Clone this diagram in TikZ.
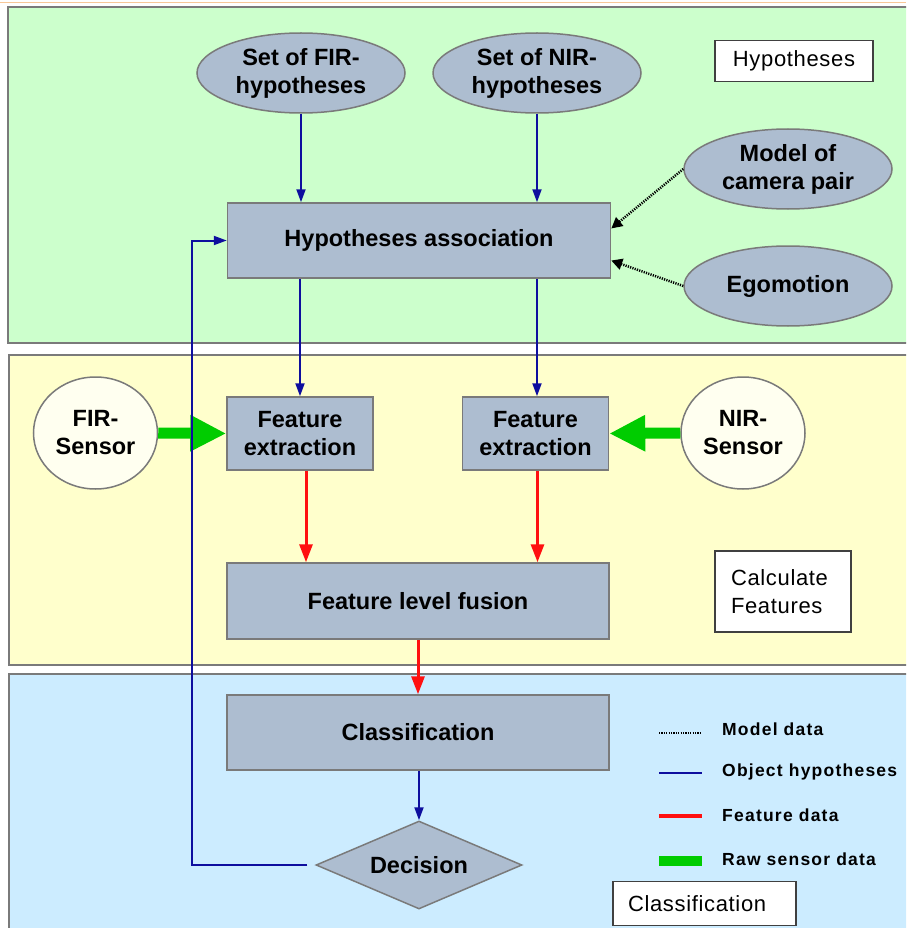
\documentclass[tikz,border=0pt]{standalone}
\usepackage{fontspec}
\setmainfont{Liberation Sans}
\usepackage{xcolor}
\usepackage{tikz}
\usetikzlibrary{shapes.geometric,arrows,arrows.meta,positioning}
\definecolor{hypgreen}{HTML}{CCFFCC}
\definecolor{calcyellow}{HTML}{FFFFCC}
\definecolor{classblue}{HTML}{CCECFF}
\definecolor{boxgray}{HTML}{ADBDD0}
\definecolor{edgegray}{HTML}{7A7A7A}
\definecolor{sensorfill}{HTML}{FFFFF0}
\definecolor{hypblue}{HTML}{0E0E9E}
\definecolor{featred}{HTML}{FF1010}
\definecolor{rawgreen}{HTML}{00CC00}
\definecolor{rimorange}{HTML}{F8C898}

\begin{document}
\begin{tikzpicture}[x=1pt,y=-1pt]
    \tikzstyle{every node}+=[inner sep=0pt]
    \tikzstyle{panel}=[draw=edgegray, line width=2pt]
    \tikzstyle{procbox}=[rectangle, draw=edgegray, fill=boxgray, line width=1.5pt, align=center, font=\bfseries\fontsize{23.5}{28}\selectfont]
    \tikzstyle{source}=[ellipse, draw=edgegray, fill=boxgray, line width=1.5pt, align=center, minimum width=208pt, minimum height=80pt, font=\bfseries\fontsize{23.5}{28}\selectfont]
    \tikzstyle{sensor}=[ellipse, draw=edgegray, fill=sensorfill, line width=1.5pt, align=center, minimum width=124pt, minimum height=112pt, font=\bfseries\fontsize{23.5}{28}\selectfont]
    \tikzstyle{labelbox}=[rectangle, draw=black!75, fill=white, line width=1.2pt, font=\fontsize{22}{28}\selectfont\addfontfeature{LetterSpace=3}]
    \tikzstyle{legendtext}=[anchor=west, font=\bfseries\fontsize{17.5}{20}\selectfont\addfontfeature{LetterSpace=7}]
    \tikzstyle{hypline}=[draw=hypblue, line width=2pt]
    \tikzstyle{hyparrow}=[hypline, -{Triangle[length=13pt,width=9pt]}]
    \tikzstyle{modelline}=[black, line width=2.5pt, dash pattern=on 1.2pt off 1.2pt]
    \tikzstyle{modelarrow}=[modelline, -{Triangle[length=11pt,width=11pt]}]
    \tikzstyle{featline}=[draw=featred, line width=3pt]
    \tikzstyle{featarrow}=[featline, -{Triangle[length=18pt,width=13pt]}]
    \tikzstyle{rawline}=[draw=rawgreen, line width=11pt]
    \tikzstyle{rawarrow}=[rawline, -{Triangle[length=36pt,width=34pt]}]

    \useasboundingbox (0,0) rectangle (906,928);
    \clip (0,0) rectangle (906,928);

    \draw [rimorange, line width=1.5pt] (0,2.5) -- (906,2.5);
    \draw [panel, fill=hypgreen] (8,7) rectangle (920,343);
    \draw [panel, fill=calcyellow] (9,355) rectangle (920,665);
    \draw [panel, fill=classblue] (9,674) rectangle (920,940);

    \node [source] (firhyp) at (301,73) {Set of FIR-\\hypotheses};
    \node [source] (nirhyp) at (537,73) {Set of NIR-\\hypotheses};
    \node [source] (modelcam) at (788,169) {Model of\\camera pair};
    \node [source] (egomotion) at (788,286) {Egomotion};
    \node [labelbox, minimum width=158pt, minimum height=41pt] (hyplabel) at (794,61) {Hypotheses};

    \node [procbox, minimum width=383pt, minimum height=75pt] (assoc) at (419,240.5) {Hypotheses association};
    \node [procbox, minimum width=146pt, minimum height=73pt] (featfir) at (300,433.5) {Feature\\extraction};
    \node [procbox, minimum width=146pt, minimum height=73pt] (featnir) at (535.5,433.5) {Feature\\extraction};
    \node [sensor] (firsensor) at (95.5,433) {FIR-\\Sensor};
    \node [sensor] (nirsensor) at (743,433) {NIR-\\Sensor};
    \node [procbox, minimum width=382pt, minimum height=76pt] (fusion) at (418,601) {Feature level fusion};
    \node [labelbox, align=left, text width=104pt, inner xsep=16pt, minimum height=81pt] (calclabel) at (783,591.5) {Calculate\\Features};

    \node [procbox, minimum width=382pt, minimum height=75pt] (classify) at (418,732.5) {Classification};
    \node [procbox, diamond, aspect=2.34, minimum width=206pt, minimum height=88pt] (decision) at (419,865) {Decision};
    \node [labelbox, align=left, text width=153pt, inner xsep=15pt, minimum height=44pt] (classlabel) at (704.5,903.5) {Classification};

    \coordinate (legmodelA) at (659,733);
    \coordinate (legmodelB) at (702,733);
    \coordinate (leghypA) at (659,773);
    \coordinate (leghypB) at (702,773);
    \coordinate (legfeatA) at (659,816);
    \coordinate (legfeatB) at (702,816);
    \coordinate (legrawA) at (659,861);
    \coordinate (legrawB) at (702,861);
    \draw [modelline, line width=1.5pt] (legmodelA) -- (legmodelB);
    \draw [hypline] (leghypA) -- (leghypB);
    \draw [featline, line width=4pt] (legfeatA) -- (legfeatB);
    \draw [rawline, line width=10pt] (legrawA) -- (legrawB);
    \node [legendtext] (legmodel) at (722,729) {Model data};
    \node [legendtext] (leghyp) at (722,772) {Object hypotheses};
    \node [legendtext] (legfeat) at (722,815) {Feature data};
    \node [legendtext] (legraw) at (722,859) {Raw sensor data};

    \draw [hyparrow] (firhyp.south) -- (firhyp.south |- assoc.north);
    \draw [hyparrow] (nirhyp.south) -- (nirhyp.south |- assoc.north);
    \draw [modelarrow] (modelcam.west) -- ([yshift=12pt]assoc.east);
    \draw [modelarrow] (egomotion.west) -- ([yshift=-20pt]assoc.east);
    \draw [hyparrow] (assoc.south -| featfir) -- (featfir.north);
    \draw [hyparrow] ([xshift=1.5pt]assoc.south -| featnir) -- ([xshift=1.5pt]featnir.north);
    \draw [rawarrow] (firsensor.east) -- (featfir.west);
    \draw [rawarrow] (nirsensor.west) -- (featnir.east);
    \draw [featarrow] ([xshift=6pt]featfir.south) -- ([xshift=6pt]featfir.south |- fusion.north);
    \draw [featarrow] ([xshift=2pt]featnir.south) -- ([xshift=2pt]featnir.south |- fusion.north);
    \draw [featarrow] (fusion.south) -- (classify.north);
    \draw [hyparrow] (decision.north |- classify.south) -- (decision.north);
    \coordinate (loopcorner) at (192,865);
    \draw [hyparrow] ([xshift=-8pt]decision.west) -- (loopcorner) |- (assoc.west);
\end{tikzpicture}
\end{document}
